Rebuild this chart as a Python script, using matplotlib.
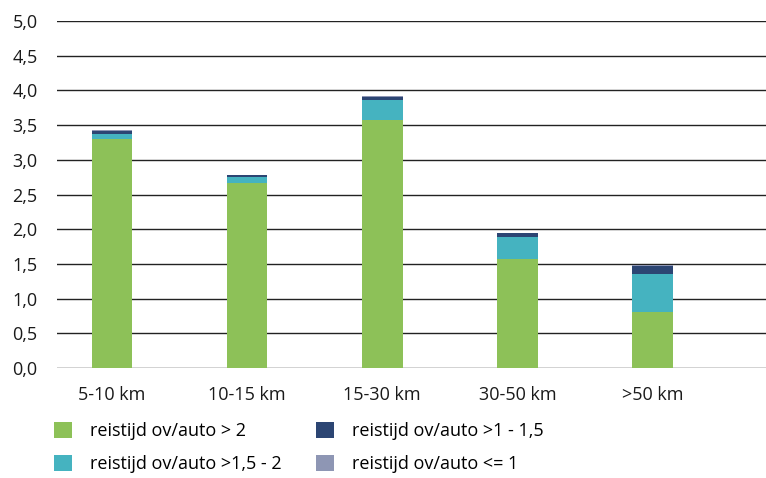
import matplotlib.pyplot as plt
import numpy as np

plt.rcParams['font.family'] = ['Open Sans', 'DejaVu Sans']

categories = ['5-10 km', '10-15 km', '15-30 km', '30-50 km', '>50 km']
gt2 = [3.30, 2.67, 3.57, 1.575, 0.81]
r15_2 = [0.07, 0.085, 0.29, 0.315, 0.545]
r1_15 = [0.045, 0.02, 0.045, 0.055, 0.115]
le1 = [0.01, 0.005, 0.01, 0.005, 0.02]
labels = ['reistijd ov/auto > 2', 'reistijd ov/auto >1,5 - 2',
          'reistijd ov/auto >1 - 1,5', 'reistijd ov/auto <= 1']
colors = ['#8dc158', '#45b3c0', '#2c4573', '#8e96b4']
yticks = [0.0, 0.5, 1.0, 1.5, 2.0, 2.5, 3.0, 3.5, 4.0, 4.5, 5.0]

fig = plt.figure(figsize=(7.66, 4.78), dpi=100)
ax = fig.add_axes([0.0744, 0.2301, 0.9256, 0.7259])

x = np.arange(len(categories))
bottom = np.zeros(len(categories))
handles = []
for vals, col, lab in zip([gt2, r15_2, r1_15, le1], colors, labels):
    h = ax.bar(x, vals, width=0.30, bottom=bottom, color=col, label=lab, zorder=3)
    bottom += np.array(vals)
    handles.append(h)

ax.set_xlim(-0.407, 4.84)
ax.set_ylim(0, 5)
ax.set_yticks(yticks)
ax.set_yticklabels([f'{v:.1f}'.replace('.', ',') for v in yticks])
ax.set_xticks(x)
ax.set_xticklabels(categories)
ax.yaxis.grid(True, color='#222222', lw=1.0, zorder=0)
ax.tick_params(axis='both', length=0, labelsize=13, colors='#1a1a1a')
ax.tick_params(axis='y', pad=14)
ax.tick_params(axis='x', pad=13)
for s in ax.spines.values():
    s.set_visible(False)

fig.legend(handles=handles, labels=labels, ncol=2, loc='upper left',
           bbox_to_anchor=(0.0705, 0.1175), frameon=False, fontsize=13,
           handlelength=1.0, handleheight=1.0, handletextpad=1.0,
           columnspacing=1.9, labelspacing=0.8, borderaxespad=0, borderpad=0)

fig.savefig('out.png', dpi=100)
